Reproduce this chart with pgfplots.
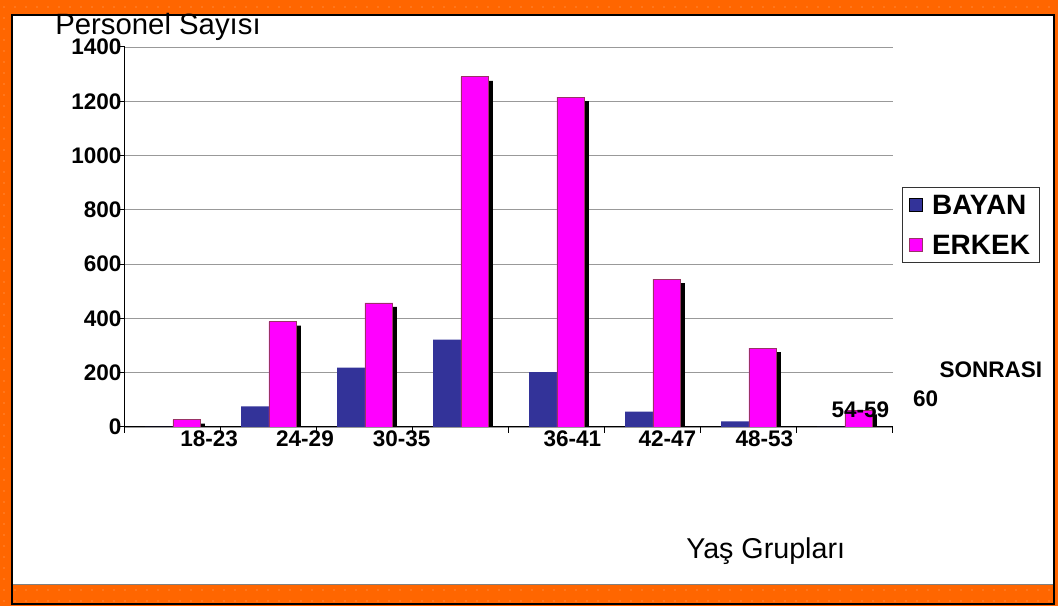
\documentclass[border=0pt]{standalone}
\usepackage{fontspec}
\setmainfont{Liberation Sans}
\usepackage{pgfplots}
\pgfplotsset{compat=1.18}
\usepackage{pgfplotstable}
\usetikzlibrary{patterns}
\definecolor{frameorange}{RGB}{255,102,0}
\definecolor{dotorange}{RGB}{255,175,120}
\definecolor{bayan}{RGB}{51,51,153}
\definecolor{erkek}{RGB}{255,0,255}
\definecolor{erkekedge}{RGB}{153,51,102}
\pgfdeclarepatternformonly{sparsedots}{\pgfpointorigin}{\pgfqpoint{8.25pt}{8.25pt}}{\pgfqpoint{8.25pt}{8.25pt}}{\pgfpathcircle{\pgfqpoint{4.1pt}{4.1pt}}{0.55pt}\pgfusepath{fill}}
\pgfplotsset{sqlegend/.style={legend image code/.code={\draw[##1,/tikz/.cd,line width=0.5pt] (0pt,-4.875pt) rectangle (9.75pt,4.875pt); \path[draw=none,fill=none] (0pt,0pt) -- (15pt,0pt);}}}

\pgfplotstableread{
x bayan erkek
0 0 27
1 76 388
2 219 457
3 322 1290
4 202 1215
5 57 545
6 21 291
7 0 61
}\datatable

\begin{document}
\begin{tikzpicture}
\fill[frameorange] (-93.75pt,-134.25pt) rectangle (699.75pt,320.25pt);
\fill[pattern=sparsedots, pattern color=dotorange] (-93.75pt,-134.25pt) rectangle (699.75pt,320.25pt);
\fill[white] (-84.75pt,-118.1pt) rectangle (696.4pt,309pt);
\draw[gray, line width=0.9pt] (-84.75pt,-118.1pt) -- (696.4pt,-118.1pt);
\draw[black, line width=1.5pt] (-84.75pt,-133pt) rectangle (696.4pt,309pt);

\begin{axis}[
  at={(0pt,0pt)}, anchor=south west,
  scale only axis, width=576pt, height=285pt,
  xmin=-0.5, xmax=7.5, ymin=0, ymax=1400,
  axis x line*=bottom, axis y line*=left,
  axis line style={black, line width=0.75pt},
  xtick={-0.5,0.5,...,7.5}, xticklabel=\mbox{},
  ytick={0,200,...,1400},
  tick align=outside, major tick length=4.5pt,
  tick style={black, line width=0.75pt},
  ymajorgrids, major grid style={gray!80, line width=0.6pt},
  yticklabel style={font=\bfseries\fontsize{16.9}{20}\selectfont, inner sep=0pt, xshift=2pt},
  /pgf/number format/assume math mode=true,
  /pgf/number format/1000 sep={},
  legend style={at={(1.0117,0.632)}, anchor=north west, draw=black!80, line width=0.6pt,
    fill=white, font=\bfseries\fontsize{21}{24}\selectfont,
    inner xsep=5pt, inner ysep=6pt, row sep=15.75pt, nodes={text depth=0pt, inner ysep=0pt}},
  legend cell align=left,
]
\addplot[ybar, bar width=0.29, bar shift=-0.145, fill=black, draw=none, forget plot, xshift=3pt, yshift=-3pt] table[x=x,y=bayan]{\datatable};
\addplot[ybar, bar width=0.29, bar shift=-0.145, fill=bayan, draw=none, sqlegend] table[x=x,y=bayan]{\datatable};
\addlegendentry{BAYAN}
\addplot[ybar, bar width=0.29, bar shift=0.145, fill=black, draw=none, forget plot, xshift=3pt, yshift=-3pt] table[x=x,y=erkek]{\datatable};
\addplot[ybar, bar width=0.29, bar shift=0.145, fill=erkek, draw=erkekedge, line width=0.6pt, sqlegend] table[x=x,y=erkek]{\datatable};
\addlegendentry{ERKEK}
\draw[gray!80, line width=0.6pt] (rel axis cs:1,0) -- (rel axis cs:1,1);
\coordinate (L1) at (axis cs:0.377,-42);
\coordinate (L2) at (axis cs:1.375,-42);
\coordinate (L3) at (axis cs:2.382,-42);
\coordinate (L4) at (axis cs:4.16,-42);
\coordinate (L5) at (axis cs:5.15,-42);
\coordinate (L6) at (axis cs:6.16,-42);
\coordinate (L7) at (axis cs:7.16,62);
\coordinate (L8) at (axis cs:7.84,103);
\coordinate (L9) at (axis cs:8.52,210);
\end{axis}
\begin{scope}[every node/.style={font=\bfseries\fontsize{16.9}{20}\selectfont, inner sep=0pt}]
\node at (L1) {18-23};
\node at (L2) {24-29};
\node at (L3) {30-35};
\node at (L4) {36-41};
\node at (L5) {42-47};
\node at (L6) {48-53};
\node at (L7) {54-59};
\node at (L8) {60};
\node at (L9) {SONRASI};
\end{scope}
\node[anchor=base west, font=\fontsize{22}{26}\selectfont, inner sep=0pt] at (-52.5pt,294.5pt) {Personel Sayısı};
\node[anchor=base west, font=\fontsize{21.5}{26}\selectfont, inner sep=0pt] at (420.75pt,-99pt) {Yaş Grupları};
\pgfresetboundingbox
\useasboundingbox (-93.75pt,-134.25pt) rectangle (699.75pt,320.25pt);
\end{tikzpicture}
\end{document}
